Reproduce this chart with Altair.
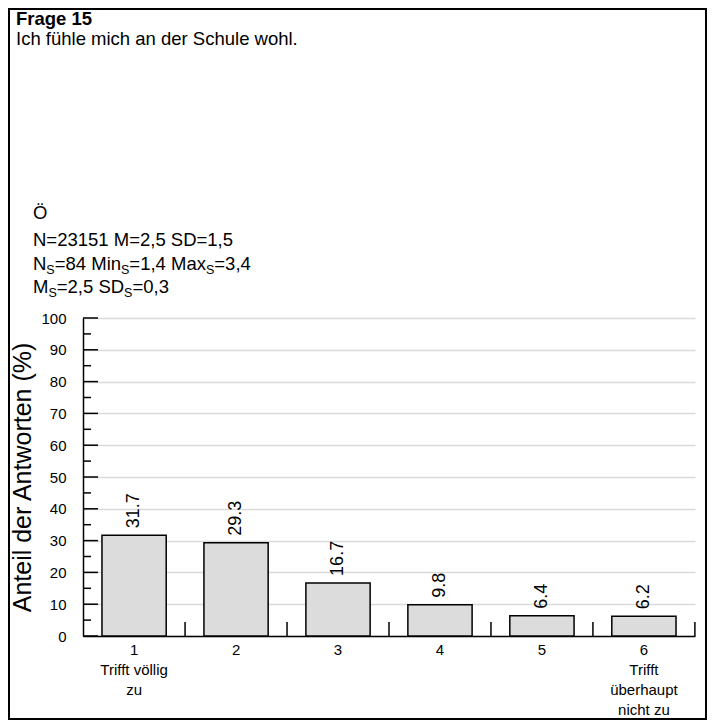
import json
import altair as alt
import pandas as pd

# ---- data ----
categories = ["1", "2", "3", "4", "5", "6"]
values = [31.7, 29.3, 16.7, 9.8, 6.4, 6.2]
cat_labels = {
    "1": ["1", "Trifft völlig", "zu"],
    "6": ["6", "Trifft", "überhaupt", "nicht zu"],
}
major_ticks = [0, 10, 20, 30, 40, 50, 60, 70, 80, 90, 100]
minor_ticks = [5, 15, 25, 35, 45, 55, 65, 75, 85, 95]

title_bold = "Frage 15"
title_text = "Ich fühle mich an der Schule wohl."
group_text = "Ö"
stat_lines = [
    [("N=23151 M=2,5 SD=1,5", False)],
    [("N", False), ("S", True), ("=84 Min", False), ("S", True), ("=1,4 Max", False), ("S", True), ("=3,4", False)],
    [("M", False), ("S", True), ("=2,5 SD", False), ("S", True), ("=0,3", False)],
]

# ---- layout ----
W, H = 612, 318
PAD = {"left": 75, "top": 310, "right": 12, "bottom": 84}
FONT = "Liberation Sans"
P_IN, P_OUT = 0.37, 0.186
HEAD_FS = 18.5
SUB_FS = 12.5

# Arial / Liberation Sans advance widths (per 1000 em)
CW = {"N": 722, "=": 584, " ": 278, "M": 833, ",": 278, "S": 667, "D": 722,
      "i": 222, "n": 556, "a": 556, "x": 500}
for d in "0123456789":
    CW[d] = 556


def text_width(s, fs):
    return sum(CW.get(c, 556) for c in s) * fs / 1000.0


df = pd.DataFrame({"cat": categories, "val": values})
xscale = alt.Scale(paddingInner=P_IN, paddingOuter=P_OUT)
yscale = alt.Scale(domain=[0, 100], nice=False)

label_expr = ""
for k, v in cat_labels.items():
    label_expr += f"datum.value == '{k}' ? {json.dumps(v, ensure_ascii=False)} : "
label_expr += "datum.value"

x_axis = alt.Axis(title=None, labelAngle=0, ticks=False, labelExpr=label_expr,
                  labelBaseline="top", labelPadding=6, labelLineHeight=20,
                  labelFontSize=15, labelColor="black", labelFont=FONT,
                  domainColor="black", domainWidth=1.5, grid=False)
y_axis = alt.Axis(title="Anteil der Antworten (%)", values=major_ticks, ticks=False,
                  labelOverlap=False,
                  labelFontSize=15, labelColor="black", labelFont=FONT, labelPadding=17,
                  titleFontSize=25, titleFont=FONT, titleFontWeight="normal",
                  titleColor="black", titlePadding=5,
                  domainColor="black", domainWidth=1.5,
                  grid=True, gridColor="#dadada", gridWidth=1.5)

bars = alt.Chart(df).mark_bar(fill="#dcdcdc", stroke="black", strokeWidth=1.5).encode(
    x=alt.X("cat:N", sort=categories, scale=xscale, axis=x_axis),
    y=alt.Y("val:Q", scale=yscale, axis=y_axis))

bar_text = alt.Chart(df).mark_text(angle=270, align="left", baseline="middle", dx=7,
                                   fontSize=18, font=FONT, color="black").encode(
    x=alt.X("cat:N", sort=categories, scale=xscale, axis=x_axis),
    y=alt.Y("val:Q", scale=yscale, axis=y_axis),
    text=alt.Text("val:Q", format=".1f"))

step = W / (len(categories) - P_IN + 2 * P_OUT)
xticks = alt.Chart(df).mark_rule(color="black", strokeWidth=1.5, xOffset=step * P_IN / 2).encode(
    x=alt.X("cat:N", sort=categories, scale=xscale, bandPosition=1, axis=x_axis),
    y=alt.value(H - 14), y2=alt.value(H))

ymaj = alt.Chart(pd.DataFrame({"val": major_ticks})).mark_rule(color="black", strokeWidth=1.5).encode(
    y=alt.Y("val:Q", scale=yscale, axis=y_axis), x=alt.value(0), x2=alt.value(15))
ymin = alt.Chart(pd.DataFrame({"val": minor_ticks})).mark_rule(color="black", strokeWidth=1.5).encode(
    y=alt.Y("val:Q", scale=yscale, axis=y_axis), x=alt.value(0), x2=alt.value(8))

# header texts
hdr = []
hdr.append(alt.Chart(pd.DataFrame({"t": [title_bold]})).mark_text(
    align="left", baseline="alphabetic", fontSize=HEAD_FS, fontWeight="bold", font=FONT, color="black").encode(
    text="t:N", x=alt.value(-67), y=alt.value(-293)))
hdr.append(alt.Chart(pd.DataFrame({"t": [title_text]})).mark_text(
    align="left", baseline="alphabetic", fontSize=HEAD_FS, font=FONT, color="black").encode(
    text="t:N", x=alt.value(-67), y=alt.value(-273)))
hdr.append(alt.Chart(pd.DataFrame({"t": [group_text]})).mark_text(
    align="left", baseline="alphabetic", fontSize=HEAD_FS, font=FONT, color="black").encode(
    text="t:N", x=alt.value(-50), y=alt.value(-99)))

line_y = [-72, -48, -25]
for line, ly in zip(stat_lines, line_y):
    cx = -50.0
    for seg, sub in line:
        fs = SUB_FS if sub else HEAD_FS
        hdr.append(alt.Chart(pd.DataFrame({"t": [seg]})).mark_text(
            align="left", baseline="alphabetic", fontSize=fs, font=FONT, color="black").encode(
            text="t:N", x=alt.value(cx), y=alt.value(ly + (4 if sub else 0))))
        cx += text_width(seg, fs)

border = alt.Chart(pd.DataFrame({"a": [0]})).mark_rect(fillOpacity=0, stroke="black", strokeWidth=2).encode(
    x=alt.value(-PAD["left"] + 1), x2=alt.value(W + PAD["right"] - 1),
    y=alt.value(-PAD["top"] + 1), y2=alt.value(H + PAD["bottom"] - 1))

chart = alt.layer(bars, xticks, ymaj, ymin, bar_text, *hdr, border).properties(
    width=W, height=H, autosize=alt.AutoSizeParams(type="none"), padding=PAD,
    background="white"
).configure_view(stroke=None)

chart.save("out.html", embed_options={"renderer": "svg", "actions": False})
